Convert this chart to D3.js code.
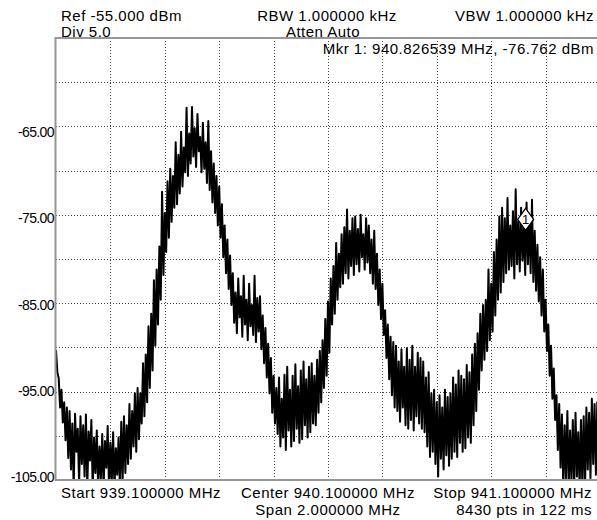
<!DOCTYPE html>
<html>
<head>
<meta charset="utf-8">
<script src="https://cdn.jsdelivr.net/npm/d3@7"></script>
<style>
  body { margin: 0; background: #fff; }
  text { font-family: "Liberation Sans", Arial, sans-serif; fill: #000; }
</style>
</head>
<body>
<div id="chart"></div>
<script>
// sweep settings
const startMHz = 939.1;
const stopMHz = 941.1;
const stepMHz = 0.005;

// trace, one value per 5 kHz (dBm)
const traceDbm = [
  -90.3, -92.8, -93.5, -96.8, -94.8, -98.5, -96.2, -100.5, -96.8, -102.5,
  -97.2, -103.8, -98.6, -106, -97.5, -101.8, -99.2, -105.5, -97.8, -103.2,
  -98.8, -104.6, -97.6, -106, -99.5, -102.8, -98.2, -106, -100.2, -104.2,
  -99.4, -106, -101.2, -104.8, -99.8, -106, -100.6, -103.6, -98.9, -106,
  -100.8, -105.2, -99.6, -106, -101.4, -104.4, -100.2, -106, -98.4, -105,
  -97.8, -104.2, -98.8, -103.2, -96.4, -102.6, -97.2, -101.2, -95.2, -101.8,
  -94.6, -100.4, -95.2, -98.6, -91.8, -97.8, -90.8, -96.2, -87.6, -94.6,
  -86.2, -92.6, -82.4, -89.8, -81.2, -87.4, -78.6, -84.6, -72.4, -81.8,
  -74.8, -79.2, -71.2, -77.6, -69.8, -75.8, -70.6, -74.2, -66.8, -73.8,
  -68.2, -72.6, -65.6, -71.8, -67.4, -70.2, -62.9, -70.6, -65.8, -69.2,
  -62.8, -68.4, -65.2, -69.6, -63.6, -67.8, -66.2, -70.2, -64.6, -69.8,
  -66.8, -71.4, -64.4, -72.2, -67.8, -73.6, -69.2, -74.8, -70.6, -76.2,
  -71.8, -77.6, -73.8, -79.8, -76.2, -81.6, -77.8, -83.4, -79.6, -85.2,
  -81.6, -87.2, -83.8, -88.4, -82.2, -86.6, -84.2, -88.8, -81.9, -87.4,
  -84.6, -89.2, -82.8, -87.6, -85.2, -88.6, -81.9, -89.4, -84.4, -88.2,
  -84.2, -90.2, -86.4, -91.8, -87.8, -93.4, -89.6, -95.2, -91.2, -97.4,
  -93.2, -98.6, -94.6, -99.8, -93.4, -101.2, -95.8, -100.2, -93.1, -101.6,
  -92.2, -99.4, -94.8, -101.2, -93.2, -100.6, -91.9, -99.2, -94.4, -100.8,
  -92.6, -100.4, -91.6, -98.8, -93.6, -100.2, -92.2, -99.6, -91.8, -98.6,
  -93.2, -98.8, -91.4, -97.4, -90.4, -96.2, -89.2, -94.6, -86.8, -93.2,
  -84.8, -90.6, -82.2, -87.4, -80.8, -86.2, -78.2, -84.6, -79.4, -83.2,
  -77.2, -82.8, -76.4, -81.6, -74.4, -82.2, -76.8, -80.8, -75.4, -81.8,
  -75.2, -80.6, -76.6, -81.4, -75.0, -79.8, -77.2, -81.2, -75.4, -80.4,
  -76.2, -81.6, -77.8, -82.8, -76.8, -83.4, -79.4, -85.2, -81.2, -86.8,
  -82.8, -88.6, -85.8, -91.2, -87.4, -93.6, -88.8, -95.4, -89.4, -96.8,
  -89.8, -97.2, -91.6, -98.4, -90.2, -96.8, -92.2, -98.8, -90.1, -99.2,
  -91.4, -98.2, -89.8, -99.4, -92.2, -97.8, -90.6, -98.6, -91.2, -99.2,
  -91.6, -99.6, -93.4, -101.2, -92.8, -102.4, -95.2, -101.8, -94.8, -103.2,
  -96.2, -104.6, -95.4, -102.6, -96.8, -103.8, -94.8, -102.2, -95.6, -103.4,
  -95.2, -102.6, -93.4, -101.8, -94.2, -102.4, -92.6, -100.8, -93.2, -101.8,
  -93.6, -101.4, -92.0, -100.2, -92.8, -100.8, -90.8, -98.8, -89.6, -97.2,
  -88.4, -94.8, -86.2, -92.6, -85.2, -91.4, -84.6, -90.4, -81.2, -89.2,
  -82.8, -88.2, -79.2, -86.4, -77.8, -84.6, -75.2, -83.8, -74.2, -82.6,
  -75.4, -81.6, -73.1, -81.2, -76.2, -80.8, -74.6, -82.2, -72.1, -80.6,
  -75.8, -81.4, -74.2, -80.2, -76.4, -81.8, -73.6, -80.6, -75.2, -81.6,
  -73.3, -82.6, -76.8, -83.6, -78.4, -84.8, -79.8, -86.4, -81.2, -88.2,
  -84.6, -90.4, -87.4, -93.2, -89.8, -95.8, -92.4, -98.2, -95.4, -101.6,
  -96.4, -103.6, -97.6, -106, -98.8, -104.8, -97.2, -106, -99.4, -105.2,
  -98.2, -106, -97.4, -104.6, -99.6, -106, -98.2, -105.4, -97.8, -106,
  -96.8, -103.8, -97.4, -104.8, -95.8, -103.2, -96.4, -104.4, -96.2, -103.6,
  -97
];

const refDbm = -55;
const divDb = 5.0;
const divisions = 10;
const yTicks = [-65, -75, -85, -95, -105];

const markerMHz = [940.826539];
const markerDbm = [-76.762];
const markerNames = ["1"];

const topLeft = ["Ref -55.000 dBm", "Div 5.0"];
const topMid = ["RBW 1.000000 kHz", "Atten Auto"];
const topRight = ["VBW 1.000000 kHz"];
const markerText = "Mkr 1: 940.826539 MHz, -76.762 dBm";
const bottomLeft = ["Start 939.100000 MHz"];
const bottomMid = ["Center 940.100000 MHz", "Span 2.000000 MHz"];
const bottomRight = ["Stop 941.100000 MHz", "8430 pts in 122 ms"];

const width = 597, height = 520;
const plotLeft = 56, plotRight = 600, plotTop = 38, plotBottom = 480;

const svg = d3.select("#chart").append("svg")
  .attr("width", width)
  .attr("height", height);

const x = d3.scaleLinear().domain([startMHz, stopMHz]).range([plotLeft, plotRight]);
const y = d3.scaleLinear().domain([refDbm, refDbm - divDb * divisions]).range([plotTop, plotBottom]);
// the analyzer nudges its labels inward a little
const yLabel = d3.scaleLinear().domain([-65, -105]).range([132, 477]);

const freqs = traceDbm.map((_, i) => startMHz + i * stepMHz);

// grid
const xDiv = d3.range(1, divisions).map(i => startMHz + i * (stopMHz - startMHz) / divisions);
const yDiv = d3.range(1, divisions).map(i => refDbm - i * divDb);

const grid = svg.append("g")
  .attr("stroke", "#444")
  .attr("stroke-width", 1)
  .attr("stroke-dasharray", "1,2")
  .attr("shape-rendering", "crispEdges");

grid.selectAll("line.v")
  .data(xDiv)
  .join("line")
    .attr("class", "v")
    .attr("x1", d => Math.round(x(d)) + 0.5)
    .attr("x2", d => Math.round(x(d)) + 0.5)
    .attr("y1", plotTop)
    .attr("y2", plotBottom);

grid.selectAll("line.h")
  .data(yDiv)
  .join("line")
    .attr("class", "h")
    .attr("x1", plotLeft)
    .attr("x2", plotRight)
    .attr("y1", d => Math.round(y(d)) + 0.5)
    .attr("y2", d => Math.round(y(d)) + 0.5);

// trace
svg.append("clipPath").attr("id", "plot-clip")
  .append("rect")
    .attr("x", plotLeft).attr("y", plotTop)
    .attr("width", plotRight - plotLeft).attr("height", plotBottom - plotTop);

const line = d3.line()
  .x((d, i) => x(freqs[i]))
  .y(d => y(d));

svg.append("path")
  .datum(traceDbm)
  .attr("clip-path", "url(#plot-clip)")
  .attr("fill", "none")
  .attr("stroke", "#000")
  .attr("stroke-width", 2)
  .attr("stroke-linejoin", "round")
  .attr("d", line);

// frame
const frame = svg.append("g").attr("stroke", "#969696").attr("stroke-width", 2);
frame.append("line").attr("x1", plotLeft - 0.5).attr("x2", plotLeft - 0.5).attr("y1", plotTop - 1).attr("y2", plotBottom + 1);
frame.append("line").attr("x1", plotLeft - 1).attr("x2", width).attr("y1", plotTop).attr("y2", plotTop);
frame.append("line").attr("x1", plotLeft - 1).attr("x2", width).attr("y1", plotBottom).attr("y2", plotBottom);

// y labels
svg.append("g")
  .attr("font-size", 14)
  .attr("letter-spacing", "-0.6px")
  .attr("text-anchor", "end")
  .selectAll("text")
  .data(yTicks)
  .join("text")
    .attr("x", 54)
    .attr("y", d => yLabel(d))
    .attr("dy", "0.36em")
    .text(d => d.toFixed(2));

// marker
const mk = svg.append("g").selectAll("g")
  .data(markerMHz)
  .join("g")
    .attr("transform", (d, i) => `translate(${x(d)},${y(markerDbm[i])})`);

mk.append("path")
  .attr("d", "M0,0L-8,-11L0,-22L8,-11Z")
  .attr("fill", "#fff")
  .attr("stroke", "#000")
  .attr("stroke-width", 1.3);

mk.append("text")
  .attr("y", -6)
  .attr("text-anchor", "middle")
  .attr("font-size", 13)
  .text((d, i) => markerNames[i]);

// annotation text
const notes = svg.append("g")
  .attr("font-size", 15)
  .attr("letter-spacing", "0.5px");

const rowY = [20.5, 36.5];
const bottomRowY = [498, 515];

notes.selectAll("text.tl").data(topLeft).join("text")
  .attr("class", "tl").attr("x", 61).attr("y", (d, i) => rowY[i]).text(d => d);

notes.selectAll("text.tm").data(topMid).join("text")
  .attr("class", "tm").attr("x", (d, i) => i === 0 ? 327 : 323).attr("y", (d, i) => rowY[i])
  .attr("text-anchor", "middle").text(d => d);

notes.selectAll("text.tr").data(topRight).join("text")
  .attr("class", "tr").attr("x", 594).attr("y", (d, i) => rowY[i])
  .attr("text-anchor", "end").text(d => d);

notes.append("text")
  .attr("x", 594).attr("y", 54)
  .attr("text-anchor", "end")
  .text(markerText);

notes.selectAll("text.bl").data(bottomLeft).join("text")
  .attr("class", "bl").attr("x", 61).attr("y", (d, i) => bottomRowY[i]).text(d => d);

notes.selectAll("text.bm").data(bottomMid).join("text")
  .attr("class", "bm").attr("x", 328).attr("y", (d, i) => bottomRowY[i])
  .attr("text-anchor", "middle").text(d => d);

notes.selectAll("text.br").data(bottomRight).join("text")
  .attr("class", "br").attr("x", 592).attr("y", (d, i) => bottomRowY[i])
  .attr("text-anchor", "end").text(d => d);
</script>
</body>
</html>
